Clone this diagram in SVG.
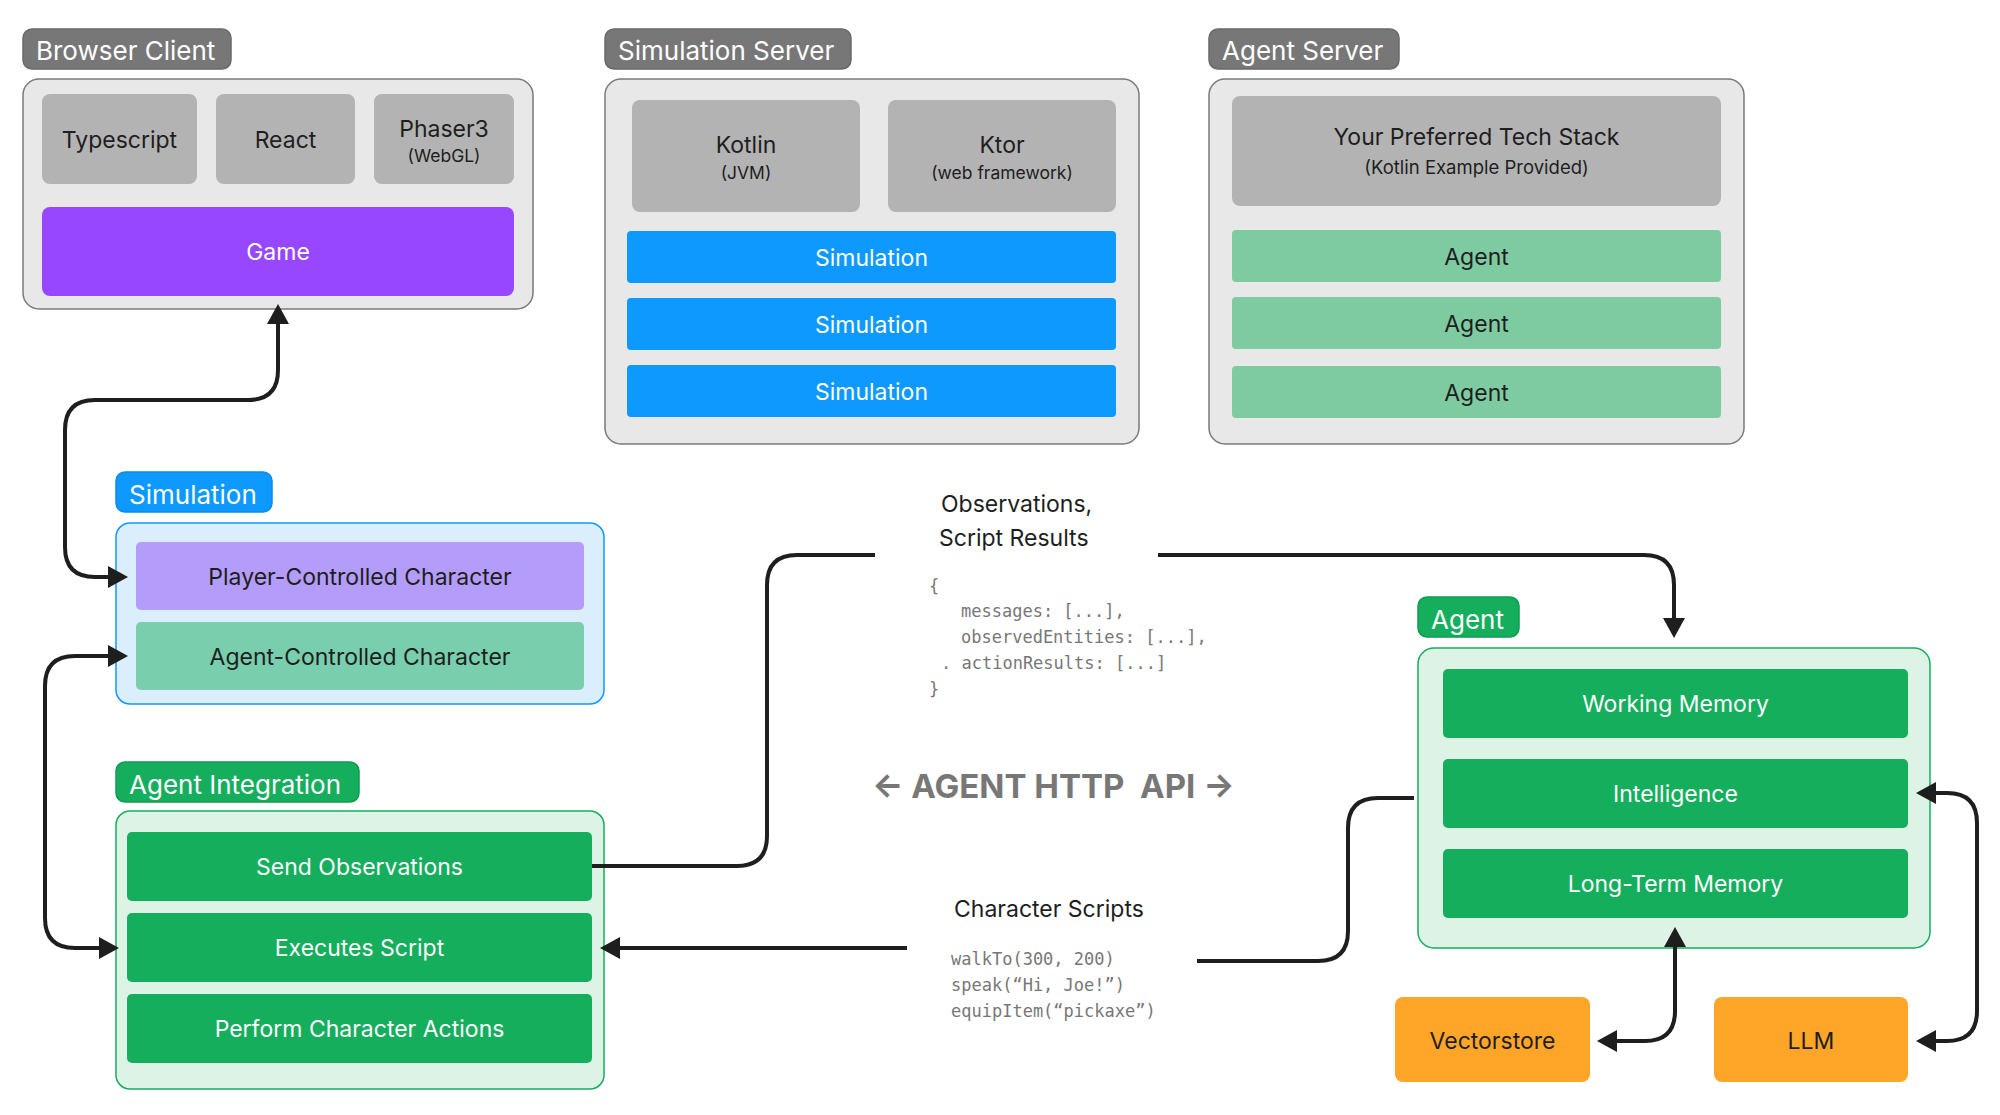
<svg xmlns="http://www.w3.org/2000/svg" width="2000" height="1115" viewBox="0 0 2000 1115">
<defs>
<style>
text{font-family:Inter,"Noto Sans","Liberation Sans",sans-serif;}
.lbl{font-size:26px;fill:#ffffff;}
.lblbox{stroke-width:1.5;}
.gray-lbl{fill:#777777;stroke:#6a6a6a;}
.cont{fill:#e8e8e8;stroke:#7a7a7a;stroke-width:1.5;}
.tech{fill:#b3b3b3;}
.t{font-size:23px;text-anchor:middle;fill:#1e1e1e;}
.tw{font-size:23px;text-anchor:middle;fill:#ffffff;}
.sub{font-size:17.5px;text-anchor:middle;fill:#1e1e1e;}
.blue{fill:#0d99ff;}
.green{fill:#14ae5c;}
.agentlite{fill:#7fcba1;}
.orange{fill:#ffa629;}
.code{font-family:"DejaVu Sans Mono","Liberation Mono",monospace;font-size:17px;fill:#777777;}
.note{font-size:23px;fill:#1e1e1e;}
.api{font-size:33px;font-weight:700;fill:#777777;white-space:pre;}
.conn{fill:none;stroke:#1e1e1e;stroke-width:4;stroke-linejoin:round;}
</style>
<marker id="arr" viewBox="0 0 20 22" markerWidth="20" markerHeight="22" markerUnits="userSpaceOnUse" refX="14" refY="11" orient="auto-start-reverse">
<path d="M0,0 L20,11 L0,22 z" fill="#1e1e1e"/>
</marker>
</defs>
<rect width="2000" height="1115" fill="#ffffff"/>

<g id="browser-client">
<rect class="lblbox gray-lbl" x="23" y="29" width="208" height="40" rx="9"/>
<text class="lbl" x="36" y="60">Browser Client</text>
<rect class="cont" x="23" y="79" width="510" height="230" rx="16"/>
<rect class="tech" x="42" y="94" width="155" height="90" rx="8"/>
<text class="t" x="119.5" y="148">Typescript</text>
<rect class="tech" x="216" y="94" width="139" height="90" rx="8"/>
<text class="t" x="285.5" y="148">React</text>
<rect class="tech" x="374" y="94" width="140" height="90" rx="8"/>
<text class="t" x="444" y="137">Phaser3</text>
<text class="sub" x="444" y="162">(WebGL)</text>
</g>
<g id="game">
<rect x="42" y="207" width="472" height="89" rx="8" fill="#9747ff"/>
<text class="tw" x="278" y="260">Game</text>
</g>

<g id="simulation-server">
<rect class="lblbox gray-lbl" x="605" y="29" width="246" height="40" rx="9"/>
<text class="lbl" x="618" y="60">Simulation Server</text>
<rect class="cont" x="605" y="79" width="534" height="365" rx="16"/>
<rect class="tech" x="632" y="100" width="228" height="112" rx="8"/>
<text class="t" x="746" y="153">Kotlin</text>
<text class="sub" x="746" y="179">(JVM)</text>
<rect class="tech" x="888" y="100" width="228" height="112" rx="8"/>
<text class="t" x="1002" y="153">Ktor</text>
<text class="sub" x="1002" y="179">(web framework)</text>
</g>
<g id="simulation-1"><rect class="blue" x="627" y="231" width="489" height="52" rx="4"/><text class="tw" x="871.5" y="266">Simulation</text></g>
<g id="simulation-2"><rect class="blue" x="627" y="298" width="489" height="52" rx="4"/><text class="tw" x="871.5" y="333">Simulation</text></g>
<g id="simulation-3"><rect class="blue" x="627" y="365" width="489" height="52" rx="4"/><text class="tw" x="871.5" y="400">Simulation</text></g>

<g id="agent-server">
<rect class="lblbox gray-lbl" x="1209" y="29" width="190" height="40" rx="9"/>
<text class="lbl" x="1222" y="60">Agent Server</text>
<rect class="cont" x="1209" y="79" width="535" height="365" rx="16"/>
<rect class="tech" x="1232" y="96" width="489" height="110" rx="8"/>
<text class="t" x="1476.5" y="145">Your Preferred Tech Stack</text>
<text class="sub" x="1476.5" y="174" style="font-size:18.5px">(Kotlin Example Provided)</text>
</g>
<g id="agent-1"><rect class="agentlite" x="1232" y="230" width="489" height="52" rx="4"/><text class="t" x="1476.5" y="265">Agent</text></g>
<g id="agent-2"><rect class="agentlite" x="1232" y="297" width="489" height="52" rx="4"/><text class="t" x="1476.5" y="332">Agent</text></g>
<g id="agent-3"><rect class="agentlite" x="1232" y="366" width="489" height="52" rx="4"/><text class="t" x="1476.5" y="401">Agent</text></g>

<g id="simulation">
<rect class="lblbox blue" stroke="#0b8ae6" x="116" y="472" width="156" height="40" rx="9"/>
<text class="lbl" x="129" y="504">Simulation</text>
<rect x="116" y="523" width="488" height="181" rx="14" fill="#dbeefd" stroke="#0d99ff" stroke-width="1.5"/>
</g>
<g id="player-controlled-character">
<rect x="136" y="542" width="448" height="68" rx="5" fill="#b49cfb"/>
<text class="t" x="360" y="585">Player-Controlled Character</text>
</g>
<g id="agent-controlled-character">
<rect x="136" y="622" width="448" height="68" rx="5" fill="#79cead"/>
<text class="t" x="360" y="665">Agent-Controlled Character</text>
</g>

<g id="agent-integration">
<rect class="lblbox green" stroke="#109a51" x="116" y="762" width="243" height="40" rx="9"/>
<text class="lbl" x="129" y="794">Agent Integration</text>
<rect x="116" y="811" width="488" height="278" rx="14" fill="#dcf3e6" stroke="#14ae5c" stroke-width="1.5"/>
</g>
<g id="send-observations"><rect class="green" x="127" y="832" width="465" height="69" rx="5"/><text class="tw" x="359.5" y="875">Send Observations</text></g>
<g id="executes-script"><rect class="green" x="127" y="913" width="465" height="69" rx="5"/><text class="tw" x="359.5" y="956">Executes Script</text></g>
<g id="perform-character-actions"><rect class="green" x="127" y="994" width="465" height="69" rx="5"/><text class="tw" x="359.5" y="1037">Perform Character Actions</text></g>

<g id="agent">
<rect class="lblbox green" stroke="#109a51" x="1418" y="597" width="101" height="40" rx="9"/>
<text class="lbl" x="1431" y="629">Agent</text>
<rect x="1418" y="648" width="512" height="300" rx="16" fill="#dcf3e6" stroke="#14ae5c" stroke-width="1.5"/>
</g>
<g id="working-memory"><rect class="green" x="1443" y="669" width="465" height="69" rx="5"/><text class="tw" x="1675.5" y="712">Working Memory</text></g>
<g id="intelligence"><rect class="green" x="1443" y="759" width="465" height="69" rx="5"/><text class="tw" x="1675.5" y="802">Intelligence</text></g>
<g id="long-term-memory"><rect class="green" x="1443" y="849" width="465" height="69" rx="5"/><text class="tw" x="1675.5" y="892">Long-Term Memory</text></g>

<g id="vectorstore"><rect class="orange" x="1395" y="997" width="195" height="85" rx="8"/><text class="t" x="1492.5" y="1049">Vectorstore</text></g>
<g id="llm"><rect class="orange" x="1714" y="997" width="194" height="85" rx="8"/><text class="t" x="1811" y="1049">LLM</text></g>

<g id="labels">
<text class="note" x="941" y="512">Observations,</text>
<text class="note" x="939" y="546">Script Results</text>
<text class="code" x="929" y="592">{</text>
<text class="code" x="961" y="617">messages: [...],</text>
<text class="code" x="961" y="643">observedEntities: [...],</text>
<text class="code" x="941" y="669" xml:space="preserve">. actionResults: [...]</text>
<text class="code" x="929" y="695">}</text>
<text class="api" x="872" y="798" xml:space="preserve">← AGENT HTTP  API →</text>
<text class="note" x="954" y="917">Character Scripts</text>
<text class="code" x="951" y="965">walkTo(300, 200)</text>
<text class="code" x="951" y="991">speak(“Hi, Joe!”)</text>
<text class="code" x="951" y="1017">equipItem(“pickaxe”)</text>
</g>

<g id="connectors">
<path class="conn" d="M278,310 V370 Q278,400 248,400 H95 Q65,400 65,430 V547 Q65,577 95,577 H122" marker-start="url(#arr)" marker-end="url(#arr)"/>
<path class="conn" d="M122,656 H75 Q45,656 45,686 V918 Q45,948 75,948 H113" marker-start="url(#arr)" marker-end="url(#arr)"/>
<path class="conn" d="M592,866 H737 Q767,866 767,836 V585 Q767,555 797,555 H875"/>
<path class="conn" d="M1158,555 H1644 Q1674,555 1674,585 V632" marker-end="url(#arr)"/>
<path class="conn" d="M1414,798 H1378 Q1348,798 1348,828 V931 Q1348,961 1318,961 H1197"/>
<path class="conn" d="M907,948 H606" marker-end="url(#arr)"/>
<path class="conn" d="M1675,933 V1011 Q1675,1041 1645,1041 H1603" marker-start="url(#arr)" marker-end="url(#arr)"/>
<path class="conn" d="M1922,793 H1947 Q1977,793 1977,823 V1011 Q1977,1041 1947,1041 H1922" marker-start="url(#arr)" marker-end="url(#arr)"/>
</g>
</svg>
